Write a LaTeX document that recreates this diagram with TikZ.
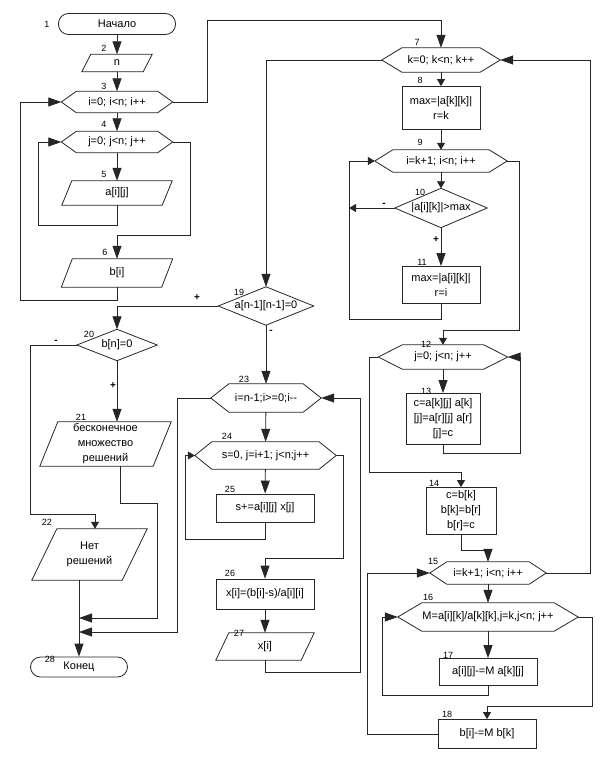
\documentclass[tikz,border=0pt]{standalone}
\usepackage{fontspec}
\setmainfont{Liberation Sans}
\usetikzlibrary{arrows.meta}
% outlines drawn round plain nodes
\def\hexbox#1#2{\draw[outline] (#1.west) -- ([xshift=#2]#1.north west) -- ([xshift=-#2]#1.north east) -- (#1.east) -- ([xshift=-#2]#1.south east) -- ([xshift=#2]#1.south west) -- cycle;}
\def\iobox#1#2{\draw[outline] ([xshift=#2]#1.north west) -- (#1.north east) -- ([xshift=-#2]#1.south east) -- (#1.south west) -- cycle;}
\def\decbox#1{\draw[outline] (#1.west) -- (#1.north) -- (#1.east) -- (#1.south) -- cycle;}
\begin{document}
\begin{tikzpicture}[x=1pt,y=-1pt,
				txt/.style={font=\fontsize{11}{15}\selectfont,align=center,inner sep=0pt},
				term/.style={txt,draw=black!85,line width=0.8pt,rounded corners=10pt},
				proc/.style={txt,draw=black!85,line width=0.8pt},
				outline/.style={draw=black!85,line width=0.8pt},
				num/.style={font=\fontsize{9}{10}\selectfont,inner sep=0pt},
				sign/.style={font=\bfseries\fontsize{10}{10}\selectfont,inner sep=0pt},
				link/.style={draw=black!85,line width=0.8pt},
				arr/.style={link,-{Triangle[length=13pt,width=9pt]}},
				sarr/.style={link,-{Triangle[length=7pt,width=8pt]}}]
				\useasboundingbox (0,0) rectangle (611,757);
				% left column
				\node [term,minimum width=117pt,minimum height=21pt] (n1) at (117,24) {Начало};
				\node [txt,minimum width=70pt,minimum height=17pt] (n2) at (117,63) {n};
				\node [txt,minimum width=111pt,minimum height=21pt] (n3) at (117,102) {i=0; i<n; i++};
				\node [txt,minimum width=111pt,minimum height=21pt] (n4) at (117,142) {j=0; j<n; j++};
				\node [txt,minimum width=110pt,minimum height=24pt] (n5) at (117,193) {a[i][j]};
				\node [txt,minimum width=111pt,minimum height=28pt] (n6) at (117,273) {b[i]};
				\node [txt,minimum width=80pt,minimum height=31pt] (n20) at (117,345) {b[n]=0};
				\node [txt,minimum width=131pt,minimum height=44pt] (n21) at (105.5,444) {бесконечное\\множество\\решений};
				\node [txt,minimum width=115pt,minimum height=51pt] (n22) at (89.5,554.5) {Нет\\решений};
				\node [term,minimum width=97pt,minimum height=20pt] (n28) at (79,667) {Конец};
				% middle column
				\node [txt,minimum width=95pt,minimum height=38pt] (n19) at (266,306) {a[n-1][n-1]=0};
				\node [txt,minimum width=110pt,minimum height=28pt] (n23) at (266,398) {i=n-1;i>=0;i-{}-};
				\node [txt,minimum width=141pt,minimum height=27pt] (n24) at (265.5,455.5) {s=0, j=i+1; j<n;j++};
				\node [proc,minimum width=98pt,minimum height=28pt] (n25) at (265,508) {s+=a[i][j] x[j]};
				\node [proc,minimum width=98pt,minimum height=30pt] (n26) at (265,594) {x[i]=(b[i]-s)/a[i][i]};
				\node [txt,minimum width=98pt,minimum height=27pt] (n27) at (265,646.5) {x[i]};
				% right column
				\node [txt,minimum width=118pt,minimum height=24pt] (n7) at (441,60) {k=0; k<n; k++};
				\node [proc,minimum width=78pt,minimum height=43pt] (n8) at (441,108) {max=|a[k][k]|\\r=k};
				\node [txt,minimum width=132pt,minimum height=22pt] (n9) at (441,161) {i=k+1; i<n; i++};
				\node [txt,minimum width=92pt,minimum height=39pt] (n10) at (441,208) {|a[i][k]|>max};
				\node [proc,minimum width=78pt,minimum height=37pt] (n11) at (441,285) {max=|a[i][k]|\\r=i};
				\node [txt,minimum width=129pt,minimum height=24pt] (n12) at (443,357) {j=0; j<n; j++};
				\node [proc,minimum width=74pt,minimum height=51pt] (n13) at (443,419) {c=a[k][j] a[k]\\{}[j]=a[r][j] a[r]\\{}[j]=c};
				\node [proc,minimum width=70pt,minimum height=47pt] (n14) at (461,511) {c=b[k]\\b[k]=b[r]\\b[r]=c};
				\node [txt,minimum width=116pt,minimum height=22pt] (n15) at (488,573) {i=k+1; i<n; i++};
				\node [txt,minimum width=180pt,minimum height=28pt] (n16) at (488,617) {M=a[i][k]/a[k][k],j=k,j<n; j++};
				\node [proc,minimum width=98pt,minimum height=27pt] (n17) at (488,672) {a[i][j]-=M a[k][j]};
				\node [proc,minimum width=98pt,minimum height=29pt] (n18) at (487,734) {b[i]-=M b[k]};
				% outlines
				\iobox{n2}{9pt} \iobox{n5}{10pt} \iobox{n6}{11pt} \iobox{n21}{18pt} \iobox{n22}{25pt} \iobox{n27}{13pt}
				\hexbox{n3}{15pt} \hexbox{n4}{15pt} \hexbox{n7}{20pt} \hexbox{n9}{18pt} \hexbox{n12}{24pt}
				\hexbox{n15}{17pt} \hexbox{n16}{24pt} \hexbox{n23}{18pt} \hexbox{n24}{17pt}
				\decbox{n10} \decbox{n19} \decbox{n20}
				% numbers
				\node [num] at (47,24) {1};
				\node [num] at (104,48) {2};
				\node [num] at (104,86) {3};
				\node [num] at (104,124) {4};
				\node [num] at (104,174) {5};
				\node [num] at (105,252) {6};
				\node [num] at (417,42) {7};
				\node [num] at (420,80) {8};
				\node [num] at (420,142) {9};
				\node [num] at (420,192) {10};
				\node [num] at (422,262) {11};
				\node [num] at (426,344) {12};
				\node [num] at (426,391) {13};
				\node [num] at (434,483) {14};
				\node [num] at (433,561) {15};
				\node [num] at (428,597) {16};
				\node [num] at (448,655) {17};
				\node [num] at (447,714) {18};
				\node [num] at (239,292) {19};
				\node [num] at (89,334) {20};
				\node [num] at (81,417) {21};
				\node [num] at (47,522) {22};
				\node [num] at (244,379) {23};
				\node [num] at (227,436) {24};
				\node [num] at (230,489) {25};
				\node [num] at (230,573) {26};
				\node [num] at (239,633) {27};
				\node [num] at (50,659) {28};
				\node [sign] at (197,298) {+};
				\node [sign] at (271,332) {-};
				\node [sign] at (56,342) {-};
				\node [sign] at (113,386) {+};
				\node [sign] at (384,205) {-};
				\node [sign] at (436,240) {+};
				\coordinate (l9) at (349,319);
				\coordinate (j1) at (79,618);
				\coordinate (j2) at (79,632);
				% input loops
				\draw [arr] (n1) -- (n2);
				\draw [arr] (n2) -- (n3);
				\draw [arr] (n3) -- (n4);
				\draw [arr] (n4) -- (n5);
				\draw [arr] (n5.south) |- (38,225) |- (n4.west);
				\draw [arr] (n4.east) -| (190,235) -| (n6.north);
				\draw [arr] (n6.south) |- (20,300) |- (n3.west);
				\draw [arr] (n3.east) -| (207,20) -| (n7.north);
				% forward elimination
				\draw [sarr] (n7) -- (n8);
				\draw [sarr] (n8) -- (n9);
				\draw [sarr] (n9) -- (n10);
				\draw [arr] (n10) -- (n11);
				\draw [sarr] (n10.west) -- (n10.west -| l9);
				\draw [sarr] (n11.south) |- (l9) |- (n9.west);
				\draw [sarr] (n9.east) -| (519,330) -| (n12.north);
				\draw [arr] (n12) -- (n13);
				\draw [arr] (n13.south) |- (520,453) |- (n12.east);
				\draw [sarr] (n12.west) -| (369,472) -| (n14.north);
				\draw [arr] (n14.south) -- (461,550) -| (n15.north);
				\draw [arr] (n15) -- (n16);
				\draw [arr] (n16) -- (n17);
				\draw [arr] (n17.south) |- (382,695) |- (n16.west);
				\draw [sarr] (n16.east) -| (592,706) -| (n18.north);
				\draw [arr] (n18.west) -| (367,573) -- (n15.west);
				\draw [arr] (n15.east) -| (590,60) -- (n7.east);
				% back substitution
				\draw [arr] (n7.west) -| (n19.north);
				\draw [arr] (n19.west) -| (n20.north);
				\draw [arr] (n19) -- (n23);
				\draw [arr] (n23) -- (n24);
				\draw [arr] (n24) -- (n25);
				\draw [sarr] (n25.south) |- (185,539) |- (n24.west);
				\draw [arr] (n24.east) -| (343,558) -| (n26.north);
				\draw [arr] (n26) -- (n27);
				\draw [arr] (n27.south) |- (360,672) |- (n23.east);
				% special cases
				\draw [arr] (n20.south) -- (n20.south |- n21.north);
				\draw [sarr] (n20.west) -| (30,514) -| ([xshift=5.5pt]n22.north);
				\draw [arr] ([xshift=14.5pt]n21.south) |- (157,503) |- (j1);
				\draw [arr] (n23.west) -| (177,632) -- (j2);
				\draw [arr] (n22.south -| n28.north) -- (n28.north);
			\end{tikzpicture}
\end{document}
